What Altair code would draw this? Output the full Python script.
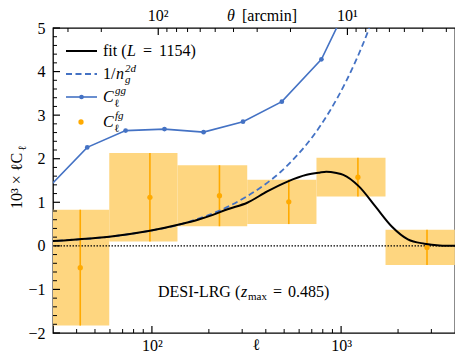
import altair as alt
import pandas as pd

W, H = 402, 305
FONT = "Liberation Serif"
FS = 16

ELL_DOMAIN = [30, 4000]
Y_DOMAIN = [-2, 5]

# fit (L = 1154)
fit_ell = [28, 30.2, 41.3, 59.5, 96, 143, 175, 210, 251, 319, 407, 517, 658, 767, 835, 946, 1027,
           1246, 1521, 1858, 2255, 2754, 3310, 4100]
fit_val = [0.10, 0.11, 0.15, 0.21, 0.34, 0.50, 0.60, 0.71, 0.84, 0.99, 1.25, 1.47, 1.63, 1.68, 1.70,
           1.67, 1.63, 1.36, 0.90, 0.44, 0.15, 0.05, 0.01, 0.0]

# 1/n_g^2d
shot_ell = [28, 30, 60, 96, 143, 175, 223, 261, 319, 390, 480, 583, 700, 870, 1064, 1200, 1406, 1450]
shot_val = [0.10, 0.11, 0.21, 0.34, 0.50, 0.62, 0.79, 0.93, 1.14, 1.39, 1.70, 2.07, 2.48, 3.09,
            3.78, 4.26, 4.99, 5.15]

# C_ell^gg
gg_ell = [28.4, 45.5, 72.6, 116.5, 187.5, 303, 486, 787, 1270]
gg_val = [1.34, 2.26, 2.645, 2.68, 2.61, 2.85, 3.31, 4.28, 6.15]

# C_ell^fg
fg_ell = [41.8, 97.6, 227.5, 529, 1227, 2845]
fg_val = [-0.50, 1.115, 1.15, 1.01, 1.575, -0.035]
fg_err = [1.33, 1.015, 0.70, 0.51, 0.445, 0.405]
bin_edges = [25.6, 59.5, 136.5, 319, 741, 1717, 3990]

# axis ticks
x_major = [100, 1000]
x_major_labels = ["10²", "10³"]
x_minor = [40, 50, 60, 70, 80, 90, 200, 300, 400, 500, 600, 700, 800, 900, 2000, 3000]
theta_major = [100, 10]
theta_major_labels = ["10²", "10¹"]
theta_minor = [3, 4, 5, 6, 7, 8, 9, 20, 30, 40, 50, 60, 70, 80, 90, 200, 300]
y_major = [-2, -1, 0, 1, 2, 3, 4, 5]
y_minor = [round(-2 + 0.2 * i, 1) for i in range(36) if i % 5 != 0]

BLUE = "#4472C4"
ORANGE = "#FFAA00"
BOX = "#FED680"

xs = alt.Scale(type="log", domain=ELL_DOMAIN, nice=False)
ys = alt.Scale(domain=Y_DOMAIN, nice=False, zero=False)

x_axis = alt.Axis(values=x_major, labelExpr="datum.value == 100 ? '10²' : '10³'",
                  ticks=False, domain=False, grid=False, title=None, labelFont=FONT,
                  labelFontSize=FS, labelColor="black", labelPadding=4)
y_axis = alt.Axis(values=y_major,
                  labelExpr="datum.value < 0 ? '−' + (-datum.value) : '' + datum.value",
                  ticks=False, domain=False, grid=False, title=None, labelFont=FONT,
                  labelFontSize=FS, labelColor="black", labelPadding=8)


def X(field):
    return alt.X(f"{field}:Q", scale=xs, axis=x_axis)


def Y(field):
    return alt.Y(f"{field}:Q", scale=ys, axis=y_axis)


fit_df = pd.DataFrame({"ell": fit_ell, "val": fit_val})
shot_df = pd.DataFrame({"ell": shot_ell, "val": shot_val})
gg_df = pd.DataFrame({"ell": gg_ell, "val": gg_val})
fg_df = pd.DataFrame({"ell": fg_ell, "val": fg_val, "err": fg_err,
                      "e0": bin_edges[:-1], "e1": bin_edges[1:]})
fg_df["lo"] = fg_df["val"] - fg_df["err"]
fg_df["hi"] = fg_df["val"] + fg_df["err"]

boxes = alt.Chart(fg_df).mark_rect(color=BOX, clip=True).encode(
    x=X("e0"), x2="e1", y=Y("lo"), y2="hi")
ebars = alt.Chart(fg_df).mark_rule(color=ORANGE, strokeWidth=1.6, clip=True).encode(
    x=X("ell"), y=Y("lo"), y2="hi")
fg_pts = alt.Chart(fg_df).mark_circle(color=ORANGE, size=28, opacity=1, clip=True).encode(
    x=X("ell"), y=Y("val"))

zero = alt.Chart(pd.DataFrame({"z": [0]})).mark_rule(
    color="black", strokeDash=[1.5, 1.5], strokeWidth=1.4).encode(y=Y("z"))

fit = alt.Chart(fit_df).mark_line(color="black", strokeWidth=2, interpolate="monotone",
                                  clip=True).encode(x=X("ell"), y=Y("val"))
shot = alt.Chart(shot_df).mark_line(color=BLUE, strokeWidth=1.8, strokeDash=[6, 3.5],
                                    interpolate="monotone", clip=True).encode(
    x=X("ell"), y=Y("val"))
gg_line = alt.Chart(gg_df).mark_line(color=BLUE, strokeWidth=1.6, clip=True).encode(
    x=X("ell"), y=Y("val"))
gg_pts = alt.Chart(gg_df).mark_circle(color=BLUE, size=22, opacity=1, clip=True).encode(
    x=X("ell"), y=Y("val"))

# inward ticks
xmaj = alt.Chart(pd.DataFrame({"ell": x_major})).mark_rule(color="black", strokeWidth=1.2).encode(
    x=X("ell"), y=alt.value(H), y2=alt.value(H - 7))
xmin = alt.Chart(pd.DataFrame({"ell": x_minor})).mark_rule(color="black", strokeWidth=1).encode(
    x=X("ell"), y=alt.value(H), y2=alt.value(H - 4))
tmaj = alt.Chart(pd.DataFrame({"theta": theta_major})).transform_calculate(
    ell="10800 / datum.theta").mark_rule(color="black", strokeWidth=1.2).encode(
    x=X("ell"), y=alt.value(0), y2=alt.value(7))
tmin = alt.Chart(pd.DataFrame({"theta": theta_minor})).transform_calculate(
    ell="10800 / datum.theta").mark_rule(color="black", strokeWidth=1).encode(
    x=X("ell"), y=alt.value(0), y2=alt.value(4))
tlab = alt.Chart(pd.DataFrame({"theta": theta_major, "lab": theta_major_labels})).transform_calculate(
    ell="10800 / datum.theta").mark_text(font=FONT, fontSize=FS, color="black",
                                          baseline="alphabetic").encode(
    x=X("ell"), y=alt.value(-7), text="lab:N")
ymaj = alt.Chart(pd.DataFrame({"v": y_major})).mark_rule(color="black", strokeWidth=1.2).encode(
    y=Y("v"), x=alt.value(0), x2=alt.value(7))
ymin = alt.Chart(pd.DataFrame({"v": y_minor})).mark_rule(color="black", strokeWidth=1).encode(
    y=Y("v"), x=alt.value(0), x2=alt.value(4))

one = pd.DataFrame({"a": [0]})


def txt(s, x, y, size=FS, style="normal", angle=0, baseline="alphabetic", align="left"):
    kw = dict(text=s, font=FONT, fontSize=size, fontStyle=style, color="black",
              baseline=baseline, align=align)
    if angle:
        kw["angle"] = angle
    return alt.Chart(one).mark_text(**kw).encode(x=alt.value(x), y=alt.value(y))


def seg(x0, x1, y, color, dash=None, width=1.8):
    kw = dict(color=color, strokeWidth=width)
    if dash:
        kw["strokeDash"] = dash
    return alt.Chart(one).mark_rule(**kw).encode(x=alt.value(x0), x2=alt.value(x1), y=alt.value(y))


def dot(x, y, color, size):
    return alt.Chart(one).mark_circle(color=color, size=size, opacity=1).encode(
        x=alt.value(x), y=alt.value(y))


LX = 50
ann = [
    # legend
    seg(13, 44, 23, "black", width=2),
    txt("fit (", LX, 28), txt("L", LX + 24, 28, style="italic"),
    txt("=", LX + 40, 28), txt("1154)", LX + 56, 28),
    seg(13, 44, 46, BLUE, dash=[6, 3.5]),
    txt("1/", LX, 51), txt("n", LX + 13, 51, style="italic"),
    txt("g", LX + 22, 55, size=11, style="italic"), txt("2d", LX + 22, 44, size=11, style="italic"),
    seg(13, 44, 69, BLUE, width=1.6), dot(28.5, 69, BLUE, 22),
    txt("C", LX, 74, style="italic"), txt("gg", LX + 12, 66, size=11, style="italic"),
    txt("ℓ", LX + 11, 79, size=11),
    dot(28, 94, ORANGE, 28),
    txt("C", LX, 99, style="italic"), txt("fg", LX + 12, 91, size=11, style="italic"),
    txt("ℓ", LX + 11, 104, size=11),
    # annotation
    txt("DESI-LRG (", 105, 269), txt("z", 188, 269, style="italic"),
    txt("max", 195, 272, size=11), txt("=", 220, 269), txt("0.485)", 235, 269),
    # axis titles
    txt("ℓ", W / 2 + 2, 322, size=FS, align="center"),
    txt("θ", 174, -7, style="italic"), txt("[arcmin]", 189, -7),
    txt("10³ × ℓC", -31, 181, angle=270, baseline="alphabetic"),
    txt("ℓ", -27, 123, size=11, angle=270, baseline="alphabetic"),
]

chart = alt.layer(
    boxes, zero, ebars, fg_pts, shot, fit, gg_line, gg_pts,
    xmaj, xmin, tmaj, tmin, tlab, ymaj, ymin, *ann
).properties(
    width=W, height=H, autosize="none",
    padding={"left": 45, "top": 20, "right": 0, "bottom": 20}
).configure_view(stroke="black", strokeWidth=1.3)

chart.save("out.html", embed_options={"renderer": "svg", "actions": False})
